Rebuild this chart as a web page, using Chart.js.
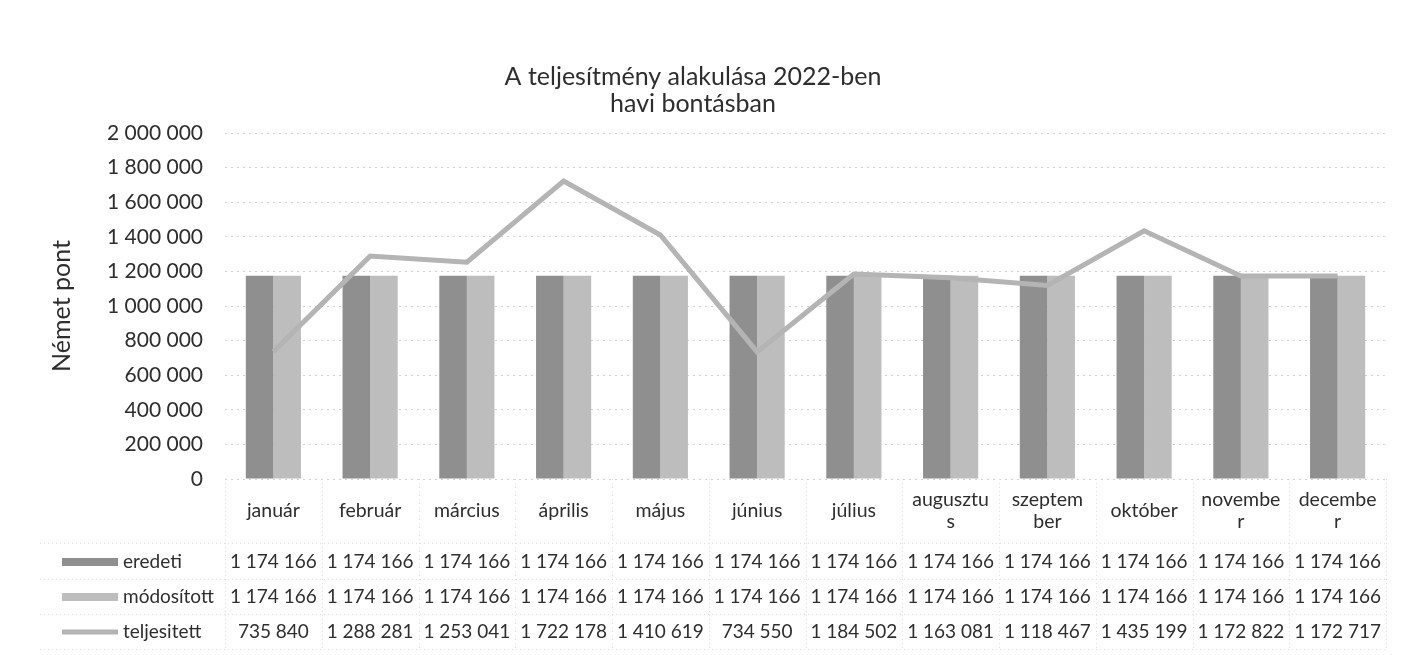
<!DOCTYPE html>
<html>
<head>
<meta charset="utf-8">
<script src="https://cdn.jsdelivr.net/npm/chart.js@4/dist/chart.umd.min.js"></script>
<style>
  html, body { margin: 0; padding: 0; background: #ffffff; }
  canvas { display: block; }
</style>
</head>
<body>
<canvas id="c" width="1412" height="655"></canvas>
<script>
// ---- data ----
const categories = ['január', 'február', 'március', 'április', 'május', 'június', 'július',
  ['augusztu', 's'], ['szeptem', 'ber'], 'október', ['novembe', 'r'], ['decembe', 'r']];
const eredeti = [1174166, 1174166, 1174166, 1174166, 1174166, 1174166, 1174166, 1174166, 1174166, 1174166, 1174166, 1174166];
const modositott = [1174166, 1174166, 1174166, 1174166, 1174166, 1174166, 1174166, 1174166, 1174166, 1174166, 1174166, 1174166];
const teljesitett = [735840, 1288281, 1253041, 1722178, 1410619, 734550, 1184502, 1163081, 1118467, 1435199, 1172822, 1172717];
const seriesNames = ['eredeti', 'módosított', 'teljesitett'];
const titleLines = ['A teljesítmény alakulása 2022-ben', 'havi bontásban'];
const yAxisTitle = 'Német pont';

// ---- styles ----
const FONT = 'Lato, "Open Sans", sans-serif';
const TEXT = '#2e2e2e';
const DARK = '#8f8f8f';
const LIGHT = '#bdbdbd';
const LINE = '#b4b4b4';

function fmt(v) {
  return String(v).replace(/\B(?=(\d{3})+(?!\d))/g, ' ');
}

const tablePlugin = {
  id: 'dataTable',
  afterDraw(chart) {
    const ctx = chart.ctx;
    const xs = chart.scales.x;
    const rows = [
      { name: seriesNames[0], data: eredeti, y: 562, key: 'rect', color: DARK },
      { name: seriesNames[1], data: modositott, y: 597, key: 'rect', color: LIGHT },
      { name: seriesNames[2], data: teljesitett, y: 632, key: 'line', color: LINE }
    ];
    ctx.save();
    // faint dotted table grid
    ctx.strokeStyle = '#dedede';
    ctx.lineWidth = 1;
    ctx.setLineDash([1, 3]);
    const hLines = [543, 579, 614, 649];
    hLines.forEach(y => {
      ctx.beginPath();
      ctx.moveTo(40, y + 0.5);
      ctx.lineTo(chart.chartArea.right, y + 0.5);
      ctx.stroke();
    });
    const n = categories.length;
    for (let i = 0; i <= n; i++) {
      const x = Math.round(xs.left + (xs.right - xs.left) * i / n) + 0.5;
      ctx.beginPath();
      ctx.moveTo(x, chart.chartArea.bottom);
      ctx.lineTo(x, 649);
      ctx.stroke();
    }
    ctx.setLineDash([]);

    ctx.font = '19px ' + FONT;
    ctx.fillStyle = TEXT;
    ctx.textBaseline = 'middle';
    rows.forEach(r => {
      // legend key
      if (r.key === 'rect') {
        ctx.fillStyle = r.color;
        ctx.fillRect(62, r.y - 4, 56, 8);
      } else {
        ctx.strokeStyle = r.color;
        ctx.lineWidth = 5;
        ctx.beginPath();
        ctx.moveTo(62, r.y);
        ctx.lineTo(118, r.y);
        ctx.stroke();
      }
      ctx.fillStyle = TEXT;
      ctx.textAlign = 'left';
      ctx.fillText(r.name, 123, r.y);
      ctx.textAlign = 'center';
      r.data.forEach((v, i) => {
        ctx.fillText(fmt(v), xs.getPixelForValue(i), r.y);
      });
    });
    ctx.restore();
  }
};

new Chart(document.getElementById('c'), {
  data: {
    labels: categories,
    datasets: [
      { type: 'bar', label: seriesNames[0], data: eredeti, backgroundColor: DARK, order: 1,
        categoryPercentage: 0.57, barPercentage: 1.0 },
      { type: 'bar', label: seriesNames[1], data: modositott, backgroundColor: LIGHT, order: 1,
        categoryPercentage: 0.57, barPercentage: 1.0 },
      { type: 'line', label: seriesNames[2], data: teljesitett, borderColor: LINE, borderWidth: 5,
        pointRadius: 0, tension: 0, order: 0, fill: false }
    ]
  },
  options: {
    responsive: false,
    devicePixelRatio: 1,
    animation: false,
    layout: { padding: { left: 0, right: 26, top: 0, bottom: 116 } },
    plugins: {
      legend: { display: false },
      tooltip: { enabled: false },
      title: {
        display: true,
        text: titleLines,
        color: TEXT,
        font: { family: FONT, size: 25, weight: 'normal', lineHeight: 1.08 },
        padding: { top: 63, bottom: 16 }
      }
    },
    scales: {
      x: {
        grid: { display: false, drawTicks: false },
        border: { display: false },
        ticks: {
          color: TEXT,
          font: { family: FONT, size: 19.5, lineHeight: 1.1 },
          maxRotation: 0, minRotation: 0, autoSkip: false,
          crossAlign: 'center',
          padding: 21
        },
        afterFit(scale) { scale.height = 60; }
      },
      y: {
        min: 0, max: 2000000,
        grid: { color: '#d2d2d2', drawTicks: false },
        border: { display: false, dash: [2, 4] },
        ticks: {
          stepSize: 200000,
          color: TEXT,
          font: { family: FONT, size: 21 },
          padding: 22,
          callback: v => fmt(v)
        },
        title: {
          display: true,
          text: yAxisTitle,
          color: TEXT,
          font: { family: FONT, size: 25 },
          padding: { top: 47, bottom: 0 }
        },
        afterFit(scale) { scale.width = 225; }
      }
    }
  },
  plugins: [tablePlugin]
});
</script>
</body>
</html>
